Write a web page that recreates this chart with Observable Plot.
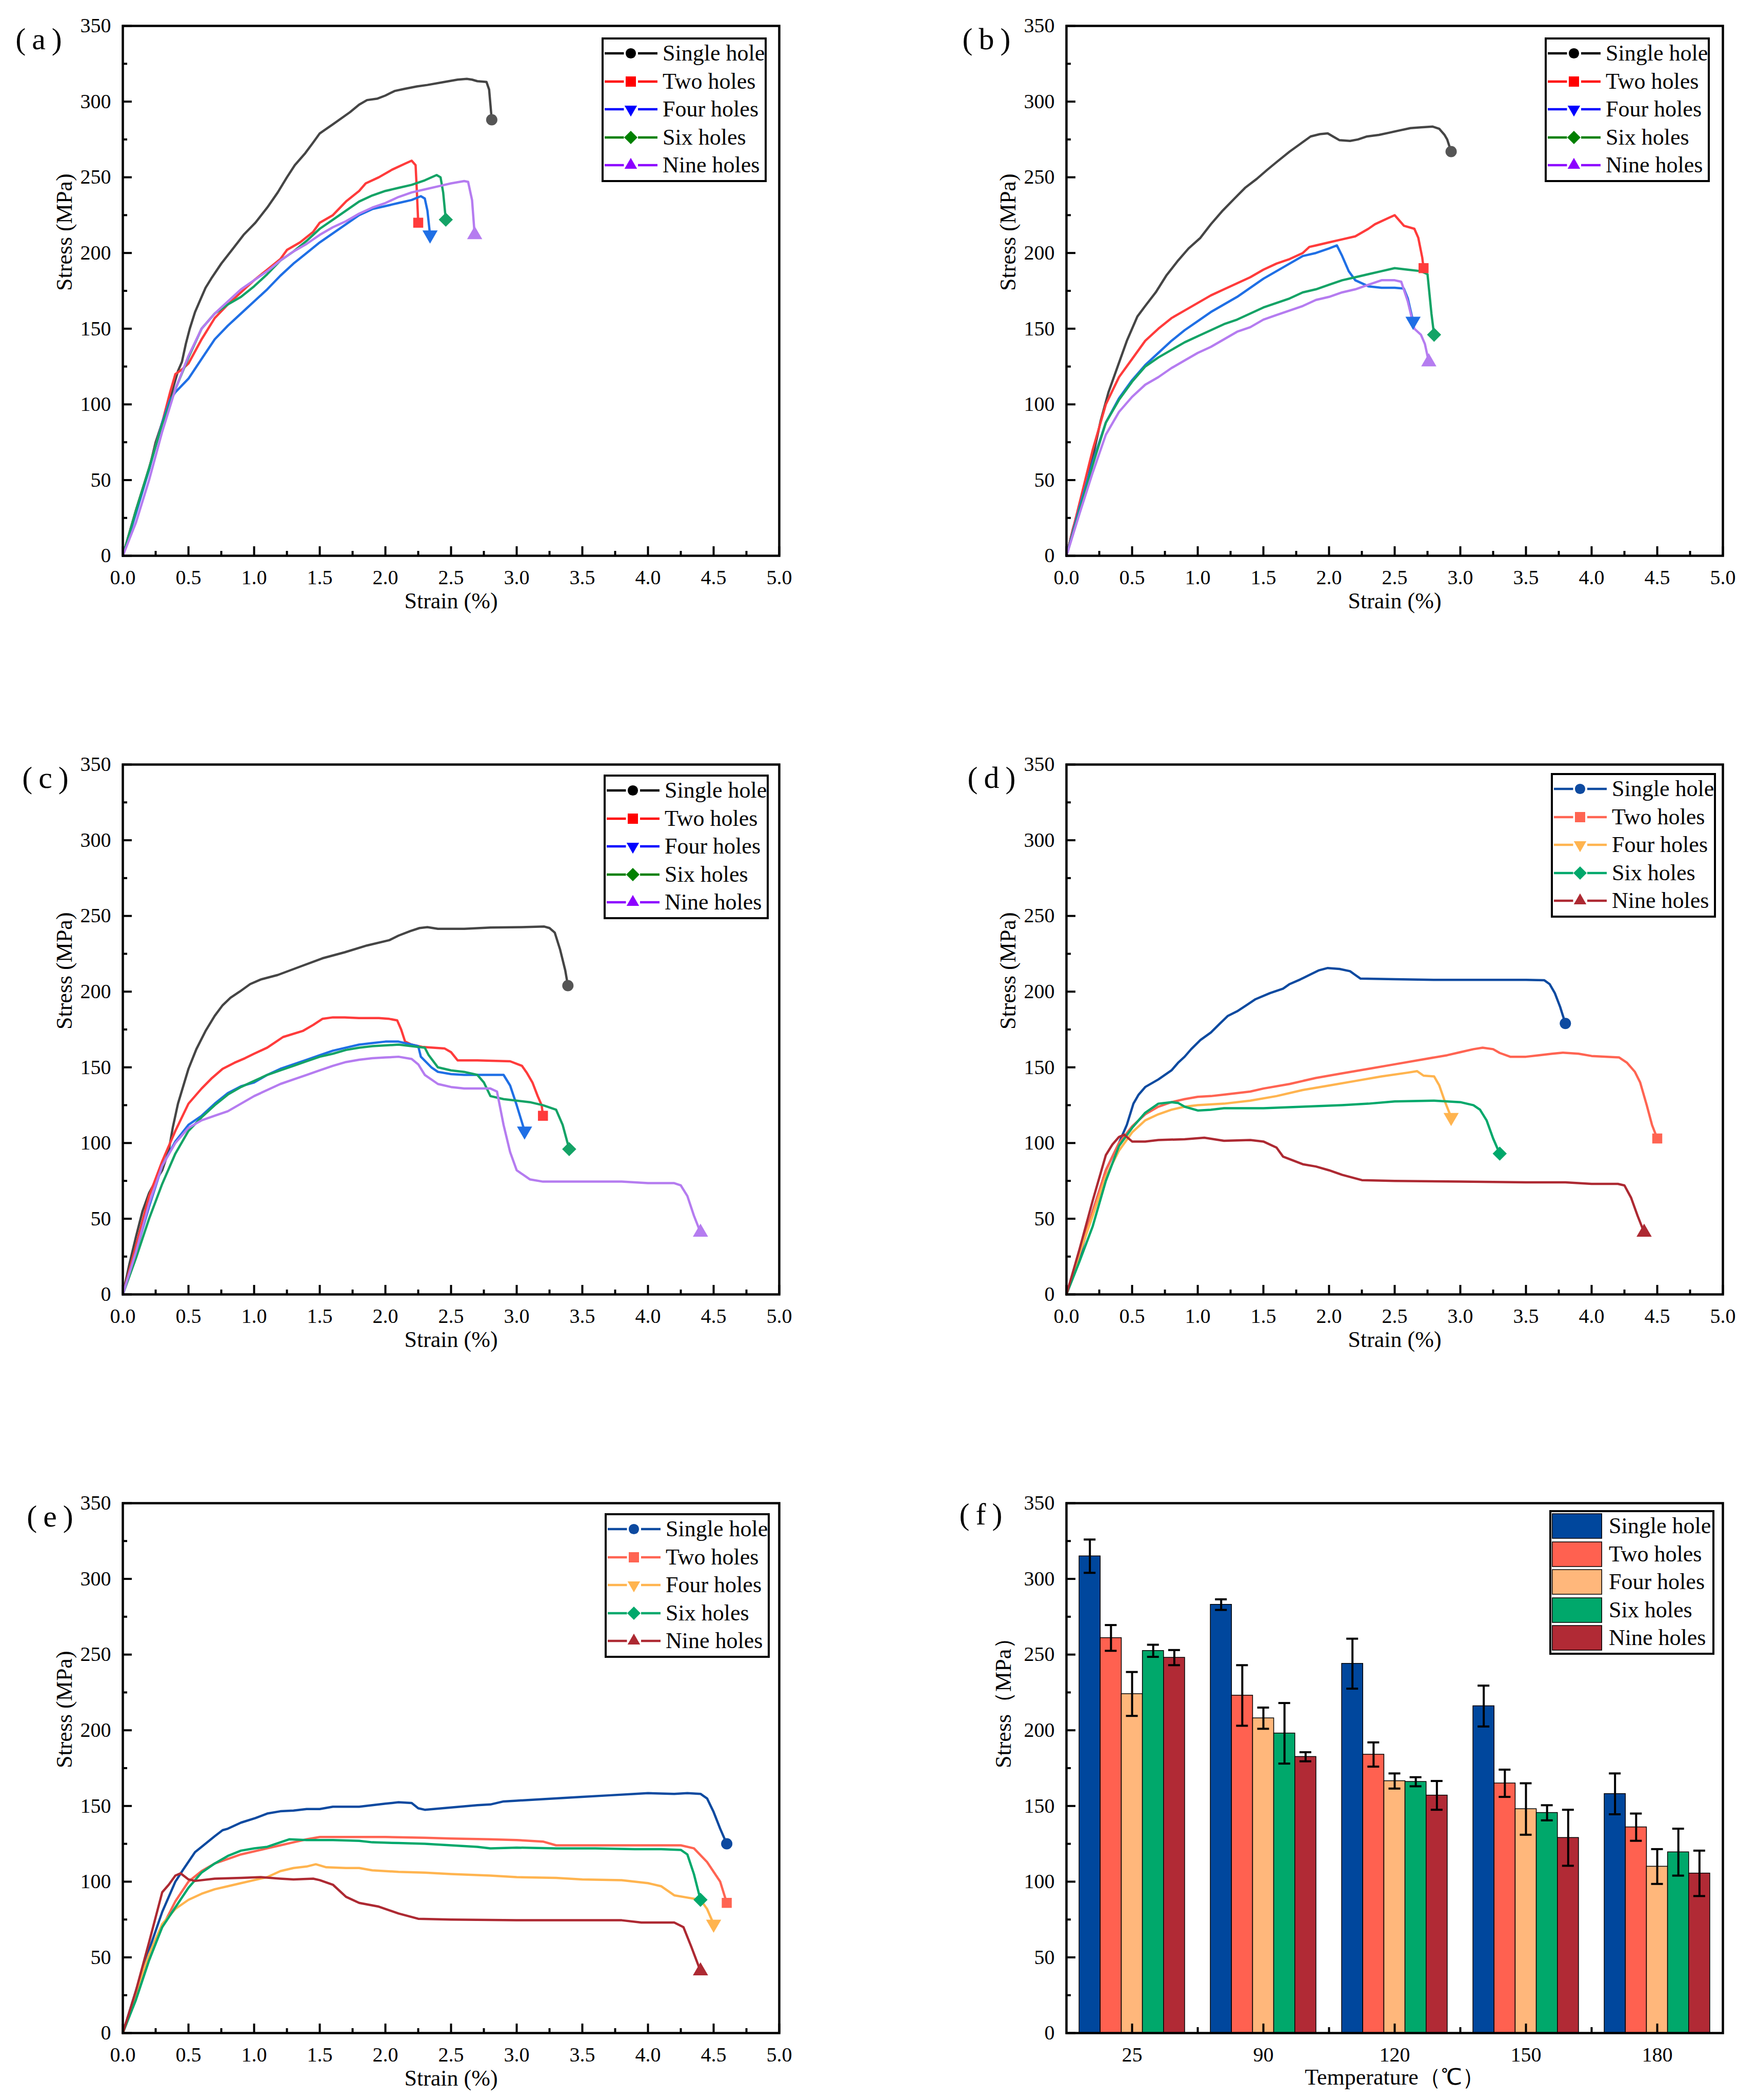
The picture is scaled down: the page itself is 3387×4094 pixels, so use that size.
<!DOCTYPE html>
<html><head><meta charset="utf-8">
<script src="https://cdn.jsdelivr.net/npm/d3@7"></script>
<script src="https://cdn.jsdelivr.net/npm/@observablehq/plot@0.6"></script>
<style>
html,body{margin:0;padding:0;background:#fff;}
#page{position:relative;width:3387px;height:4094px;overflow:hidden;background:#fff;font-family:"Liberation Serif","Times New Roman",serif;}
.legend{position:absolute;box-sizing:border-box;width:322px;height:282px;border:4.5px solid #000;background:#fff;}
.lrow{display:flex;align-items:center;height:54.5px;white-space:nowrap;font-size:44px;line-height:1;color:#000;}
.lrow svg{flex:none;display:block;}
</style>
</head><body><div id="page"></div>
<script>
// ---------- axis ticks ----------
const xMajor = [0,0.5,1,1.5,2,2.5,3,3.5,4,4.5,5];
const xMinor = [0.25,0.75,1.25,1.75,2.25,2.75,3.25,3.75,4.25,4.75];
const yMajor = [0,50,100,150,200,250,300,350];
const yMinor = [25,75,125,175,225,275,325];
const seriesNames = ["Single hole","Two holes","Four holes","Six holes","Nine holes"];

// ---------- panel (a) ----------
const a_single = [[0,0],[0.05,15],[0.1,30],[0.2,57],[0.25,75],[0.3,88],[0.34,98],[0.38,110],[0.42,122],[0.45,128],[0.48,140],[0.51,150],[0.55,161],[0.59,169],[0.63,177],[0.68,184],[0.75,193],[0.84,203],[0.92,212],[1.01,220],[1.1,230],[1.18,240],[1.25,250],[1.31,258],[1.39,266],[1.45,273],[1.5,279],[1.6,285],[1.73,293],[1.8,298],[1.86,301],[1.94,302],[2.0,304],[2.07,307],[2.15,308.5],[2.24,310],[2.32,311],[2.45,313],[2.55,314.5],[2.62,315],[2.66,314.5],[2.7,313.5],[2.77,313],[2.79,308],[2.8,298],[2.81,288]];
const a_two = [[0,0],[0.1,30],[0.2,58],[0.3,88],[0.36,108],[0.4,120],[0.45,123],[0.5,127],[0.55,135],[0.6,143],[0.7,157],[0.8,166],[0.9,174],[1.0,182],[1.1,189],[1.2,196],[1.25,202],[1.35,207],[1.45,214],[1.5,220],[1.6,225],[1.7,234],[1.8,241],[1.85,246],[1.95,250],[2.05,255],[2.15,259],[2.2,261],[2.23,258],[2.24,240],[2.25,220]];
const a_four = [[0,0],[0.1,28],[0.2,57],[0.3,88],[0.36,103],[0.4,108],[0.5,117],[0.6,130],[0.7,143],[0.8,152],[0.9,160],[1.0,168],[1.1,176],[1.2,185],[1.3,193],[1.4,200],[1.5,207],[1.6,213],[1.7,219],[1.8,225],[1.9,229],[2.0,231],[2.1,233],[2.2,235],[2.27,237.5],[2.3,236],[2.32,228],[2.34,212]];
const a_six = [[0,0],[0.1,30],[0.2,58],[0.3,87],[0.4,110],[0.5,131],[0.6,150],[0.7,160],[0.8,166],[0.9,171],[1.0,178],[1.1,186],[1.2,195],[1.3,201],[1.4,208],[1.5,216],[1.6,222],[1.7,228],[1.8,234],[1.9,238],[2.0,241],[2.1,243],[2.2,245],[2.3,248],[2.39,251.5],[2.42,250],[2.44,240],[2.46,222]];
const a_nine = [[0,0],[0.1,22],[0.2,50],[0.3,82],[0.4,110],[0.5,132],[0.6,150],[0.7,160],[0.8,168],[0.9,176],[1.0,182],[1.1,188],[1.2,195],[1.3,201],[1.4,206],[1.5,212],[1.6,217],[1.7,221],[1.8,226],[1.9,230],[2.0,233],[2.1,237],[2.2,240],[2.3,242],[2.4,244],[2.5,246],[2.6,247.5],[2.63,247],[2.66,235],[2.68,212]];

// ---------- panel (b) ----------
const b_single = [[0,0],[0.05,18],[0.1,33],[0.14,42],[0.2,65],[0.26,89],[0.32,108],[0.39,125],[0.46,142],[0.54,158],[0.6,165],[0.68,174],[0.76,185],[0.85,195],[0.93,203],[1.02,210],[1.1,219],[1.19,228],[1.28,236],[1.36,243],[1.45,249],[1.53,255],[1.6,260],[1.7,267],[1.78,272],[1.86,277],[1.93,278.5],[1.99,279],[2.03,277],[2.08,274.5],[2.16,274],[2.22,275],[2.29,277],[2.38,278],[2.46,279.5],[2.54,281],[2.62,282.5],[2.7,283],[2.79,283.5],[2.84,282],[2.88,278],[2.9,275],[2.93,267]];
const b_two = [[0,0],[0.1,35],[0.2,70],[0.3,100],[0.4,118],[0.5,130],[0.6,142],[0.7,150],[0.8,157],[0.9,162],[1.0,167],[1.1,172],[1.2,176],[1.3,180],[1.4,184],[1.5,189],[1.6,193],[1.7,196],[1.8,200],[1.85,204],[1.9,205],[2.0,207],[2.1,209],[2.2,211],[2.3,216],[2.35,219],[2.45,223],[2.5,225],[2.53,222],[2.57,218],[2.65,216],[2.68,210],[2.71,197],[2.72,190]];
const b_four = [[0,0],[0.1,32],[0.2,62],[0.3,88],[0.4,104],[0.5,116],[0.6,126],[0.7,134],[0.8,142],[0.9,149],[1.0,155],[1.1,161],[1.2,166],[1.3,171],[1.4,177],[1.5,183],[1.6,188],[1.7,193],[1.8,198],[1.9,200],[2.0,203],[2.06,205],[2.1,198],[2.15,188],[2.2,182],[2.3,178],[2.4,177],[2.5,177],[2.57,176.5],[2.6,170],[2.64,155]];
const b_six = [[0,0],[0.1,30],[0.2,60],[0.3,88],[0.4,103],[0.5,115],[0.6,125],[0.7,131],[0.8,136],[0.9,141],[1.0,145],[1.1,149],[1.2,153],[1.3,156],[1.4,160],[1.5,164],[1.6,167],[1.7,170],[1.8,174],[1.9,176],[2.0,179],[2.1,182],[2.2,184],[2.3,186],[2.4,188],[2.5,190],[2.6,189],[2.7,188],[2.75,186],[2.78,160],[2.8,146]];
const b_nine = [[0,0],[0.1,28],[0.2,55],[0.3,80],[0.4,95],[0.5,105],[0.6,113],[0.7,118],[0.8,124],[0.9,129],[1.0,134],[1.1,138],[1.2,143],[1.3,148],[1.4,151],[1.5,156],[1.6,159],[1.7,162],[1.8,165],[1.9,169],[2.0,171],[2.1,174],[2.2,176],[2.3,179],[2.4,182],[2.5,182],[2.55,181],[2.6,168],[2.65,150],[2.7,146],[2.73,140],[2.76,128]];

// ---------- panel (c) ----------
const c_single = [[0,0],[0.05,20],[0.1,38],[0.15,55],[0.2,67],[0.25,75],[0.3,82],[0.35,95],[0.38,110],[0.42,126],[0.5,149],[0.56,162],[0.63,174],[0.7,184],[0.76,191],[0.82,196],[0.89,200],[0.97,205],[1.05,208],[1.18,211],[1.35,216.5],[1.52,222],[1.69,226],[1.86,230.5],[2.03,234],[2.1,237],[2.19,240],[2.26,242],[2.32,242.6],[2.4,241.5],[2.6,241.5],[2.8,242.3],[3.04,242.6],[3.21,243],[3.25,242],[3.29,239],[3.33,228],[3.37,214],[3.39,204]];
const c_two = [[0,0],[0.1,32],[0.2,65],[0.3,88],[0.4,108],[0.5,126],[0.6,136],[0.68,143],[0.76,149],[0.85,153],[0.93,156],[1.0,159],[1.1,163],[1.22,170],[1.37,174],[1.45,178],[1.52,182],[1.6,183],[1.69,183],[1.8,182.5],[1.95,182.5],[2.03,182],[2.09,181],[2.12,175],[2.15,167],[2.2,165],[2.28,163.5],[2.45,162.5],[2.5,160],[2.55,154.6],[2.7,154.6],[2.95,154],[3.04,151],[3.08,146],[3.12,140],[3.16,131],[3.19,125],[3.2,118]];
const c_four = [[0,0],[0.1,28],[0.2,58],[0.3,85],[0.4,101],[0.5,112],[0.6,118],[0.7,126],[0.8,133],[0.9,137.5],[1.0,140],[1.1,145],[1.2,149],[1.3,152],[1.4,155],[1.5,158],[1.6,161],[1.7,163],[1.8,165],[1.9,166],[2.0,167],[2.1,167],[2.2,165],[2.25,164],[2.27,157],[2.35,150],[2.4,147],[2.5,145.5],[2.6,145],[2.9,145],[2.95,138],[3.0,125],[3.06,108]];
const c_six = [[0,0],[0.1,24],[0.2,50],[0.3,73],[0.4,93],[0.5,108],[0.6,117],[0.7,125],[0.8,132],[0.9,137],[1.0,141],[1.1,145],[1.2,148],[1.3,151],[1.4,154],[1.5,157],[1.6,159],[1.7,161.5],[1.8,163],[1.9,164],[2.0,164.5],[2.1,165],[2.2,164],[2.3,163],[2.33,158],[2.4,150],[2.5,148],[2.6,147],[2.7,145],[2.75,140],[2.8,131],[2.9,129],[3.0,128],[3.1,127],[3.2,125],[3.3,122],[3.35,112],[3.4,96]];
const c_nine = [[0,0],[0.1,28],[0.2,60],[0.3,85],[0.4,100],[0.5,110],[0.6,115],[0.7,118],[0.8,121],[0.9,126],[1.0,131],[1.1,135],[1.2,139],[1.3,142],[1.4,145],[1.5,148],[1.6,151],[1.7,153.5],[1.8,155],[1.9,156],[2.0,156.5],[2.1,157],[2.2,155.5],[2.25,152],[2.3,145],[2.4,139],[2.5,137],[2.6,136],[2.7,136],[2.8,136],[2.85,134],[2.9,112],[2.95,94],[3.0,82],[3.1,76],[3.2,74.5],[3.5,74.5],[3.8,74.5],[4.0,73.5],[4.2,73.5],[4.25,72],[4.3,65],[4.35,52],[4.4,41]];

// ---------- panel (d) ----------
const d_single = [[0,0],[0.1,25],[0.2,55],[0.3,82],[0.4,100],[0.46,112],[0.51,126],[0.55,132],[0.6,137],[0.7,142],[0.8,148],[0.85,153],[0.9,157],[0.95,162],[1.02,168],[1.1,173],[1.17,179],[1.23,184],[1.3,187],[1.37,191],[1.44,195],[1.55,199],[1.65,202],[1.7,205],[1.78,208],[1.85,211],[1.92,214],[1.99,215.6],[2.08,215],[2.16,213.5],[2.2,211],[2.24,208.6],[2.5,208.2],[2.8,207.8],[3.2,207.8],[3.5,207.8],[3.64,207.5],[3.68,205],[3.72,199],[3.76,190],[3.8,179]];
const d_two = [[0,0],[0.1,28],[0.2,55],[0.3,82],[0.4,100],[0.5,111],[0.6,119],[0.7,124],[0.8,127],[0.9,129],[1.0,130.5],[1.1,131],[1.2,132],[1.3,133],[1.4,134],[1.5,136],[1.7,139],[1.9,143],[2.1,146],[2.3,149],[2.5,152],[2.7,155],[2.9,158],[3.0,160],[3.1,162],[3.17,163],[3.25,162],[3.3,159.5],[3.38,157],[3.5,157],[3.6,158],[3.7,159],[3.78,159.7],[3.9,159],[4.0,157.5],[4.21,156.5],[4.27,153],[4.33,147],[4.37,140],[4.42,125],[4.46,112],[4.5,103]];
const d_four = [[0,0],[0.1,27],[0.2,52],[0.3,78],[0.4,95],[0.5,107],[0.6,115],[0.7,119],[0.8,122],[0.9,124],[1.0,125],[1.2,126],[1.4,128],[1.6,131],[1.8,135],[2.0,138],[2.2,141],[2.4,144],[2.6,146.5],[2.67,147.5],[2.72,144.5],[2.8,144],[2.84,138],[2.88,128],[2.93,117]];
const d_six = [[0,0],[0.1,22],[0.2,45],[0.3,75],[0.4,98],[0.5,110],[0.6,120],[0.7,126],[0.8,127],[0.85,126.5],[0.9,124],[1.0,121.5],[1.1,122],[1.2,123],[1.5,123],[1.8,124],[2.1,125],[2.3,126],[2.5,127.5],[2.8,128],[3.0,127],[3.1,125],[3.15,122],[3.2,115],[3.25,103],[3.3,93]];
const d_nine = [[0,0],[0.1,30],[0.2,62],[0.3,92],[0.35,99],[0.4,104],[0.44,105.5],[0.5,101],[0.6,101],[0.7,102],[0.9,102.5],[1.05,103.5],[1.2,101.5],[1.4,102],[1.5,101],[1.6,97],[1.65,91],[1.8,86],[1.9,84.5],[2.0,82],[2.1,79],[2.25,75.5],[2.5,75],[3.0,74.5],[3.5,74],[3.8,74],[4.0,73],[4.2,73],[4.25,72],[4.3,64],[4.35,52],[4.4,41]];

// ---------- panel (e) ----------
const e_single = [[0,0],[0.1,28],[0.2,55],[0.3,80],[0.4,100],[0.46,108],[0.55,119.5],[0.6,123],[0.7,130],[0.76,134],[0.8,135],[0.9,139],[1.01,142],[1.1,145],[1.2,146.5],[1.3,147],[1.4,148],[1.5,148],[1.6,149.5],[1.8,149.5],[1.9,150.5],[2.0,151.5],[2.1,152.5],[2.2,152],[2.25,148.5],[2.3,147.5],[2.5,149],[2.7,150.5],[2.8,151],[2.9,153],[3.0,153.5],[3.3,155],[3.5,156],[3.7,157],[3.9,158],[4.0,158.5],[4.2,158],[4.3,158.5],[4.4,158],[4.45,155],[4.5,146],[4.55,135],[4.6,125]];
const e_two = [[0,0],[0.1,25],[0.2,50],[0.3,70],[0.4,87],[0.5,100],[0.6,107],[0.7,112],[0.8,115],[0.9,118],[1.0,120],[1.1,122],[1.2,124],[1.3,126],[1.4,128],[1.5,129.5],[1.8,129.5],[2.0,129.5],[2.3,129],[2.5,128.5],[2.8,128],[3.0,127.5],[3.2,126.5],[3.3,124],[3.5,124],[3.8,124],[4.0,124],[4.25,124],[4.35,122],[4.45,113],[4.55,100],[4.6,86]];
const e_four = [[0,0],[0.1,27],[0.2,52],[0.3,72],[0.4,82],[0.5,88],[0.6,92],[0.7,95],[0.8,97],[0.9,99],[1.0,101],[1.1,103],[1.2,107],[1.3,109],[1.4,110],[1.47,111.5],[1.55,109.5],[1.7,109],[1.8,109],[1.9,107.5],[2.1,106.5],[2.3,106],[2.5,105],[2.8,104],[3.0,103],[3.3,102.5],[3.5,101.5],[3.8,101],[4.0,99],[4.1,97],[4.2,91],[4.3,89.5],[4.4,88],[4.45,82],[4.5,72]];
const e_six = [[0,0],[0.1,22],[0.2,48],[0.3,70],[0.4,83],[0.5,96],[0.6,106],[0.7,112],[0.8,117],[0.9,120.5],[1.0,122],[1.1,123],[1.2,126],[1.27,128],[1.4,127.5],[1.6,127.5],[1.8,127],[1.9,126],[2.1,125.5],[2.3,125],[2.5,124],[2.7,123],[2.8,122],[3.0,122.5],[3.3,122],[3.6,122],[3.9,121.5],[4.1,121.5],[4.25,121],[4.3,118],[4.35,105],[4.4,88]];
const e_nine = [[0,0],[0.1,28],[0.2,60],[0.3,93],[0.35,98],[0.4,104],[0.44,105.5],[0.5,101.5],[0.55,100.5],[0.7,102],[0.9,102.5],[1.05,103],[1.2,102],[1.3,101.5],[1.45,102],[1.5,101],[1.6,98],[1.7,90],[1.8,86],[1.95,83.5],[2.1,79],[2.25,75.5],[2.5,75],[3.0,74.5],[3.5,74.5],[3.8,74.5],[3.95,73],[4.2,73],[4.27,70],[4.33,57],[4.4,41]];

// ---------- panel (f) bar chart ----------
const temps = ["25","90","120","150","180"];
const bar_single = [315, 283, 244, 216, 158];
const err_single = [11, 3.5, 16.5, 13.5, 13.5];
const bar_two = [261, 223, 184, 165, 136];
const err_two = [8.5, 20, 8, 9, 9];
const bar_four = [224, 208, 166.5, 148, 110];
const err_four = [14.5, 7, 5, 17, 11.5];
const bar_six = [252.5, 198, 166, 145.5, 119.5];
const err_six = [4, 20, 3, 5, 15.5];
const bar_nine = [248, 182.5, 157, 129, 105.5];
const err_nine = [5, 3, 9.5, 18.5, 15];

// ---------- styling ----------
const set1Curve = ["#454545","#ff3b3b","#1f6fe5","#14a366","#b57cf0"];
const set1Marker = ["#555555","#ff3b3b","#1f6fe5","#14a366","#b57cf0"];
const set1Legend = ["#000000","#ff0000","#0000ff","#008000","#8c00ff"];
const set2 = ["#0d4aa0","#ff6452","#ffb44f","#00a86b","#ad2932"];
const barColors = ["#00479d","#ff6150","#ffb77b","#00a86b","#b12a35"];

const triangleDown = {draw(ctx, size){const s=Math.sqrt(size*4/Math.sqrt(3));const h=s*Math.sqrt(3)/2;ctx.moveTo(-s/2,-h/3);ctx.lineTo(s/2,-h/3);ctx.lineTo(0,2*h/3);ctx.closePath();}};
const diamondSq = {draw(ctx, size){const r=Math.sqrt(size/2);ctx.moveTo(0,-r);ctx.lineTo(r,0);ctx.lineTo(0,r);ctx.lineTo(-r,0);ctx.closePath();}};
const plotSymbols = ["circle","square",triangleDown,diamondSq,"triangle"];
const legendSymbols = [[d3.symbolCircle,320],[d3.symbolSquare,400],[triangleDown,260],[diamondSq,340],[d3.symbolTriangle,260]];

const page = document.getElementById("page");
const PW = 1280, PH = 1033, MT = 50, MB = 130;
const colLeft = [0, 1693], colML = [239, 386], colMR = [174, 28];
const rowTop = [0, 1440, 2880];

function frameAxes(xTickVals, xFmt, xMinorVals, xMinorSize) {
  return [
    Plot.axisX(xMinorVals, {anchor:"bottom", tickSize:-xMinorSize, tickFormat:()=>"", strokeWidth:4, label:null}),
    Plot.axisX(xTickVals, {anchor:"bottom", tickSize:-18, tickPadding:18+27, tickFormat:xFmt, fontSize:40, strokeWidth:4, label:null}),
    Plot.axisY(yMinor, {anchor:"left", tickSize:-9, tickFormat:()=>"", strokeWidth:4, label:null}),
    Plot.axisY(yMajor, {anchor:"left", tickSize:-18, tickPadding:18+23, tickFormat:d=>String(d), fontSize:40, strokeWidth:4, label:null})
  ];
}

function place(svg, col, row) {
  svg.style.position = "absolute";
  svg.style.left = colLeft[col] + "px";
  svg.style.top = rowTop[row] + "px";
  page.appendChild(svg);
}

function addLegend(left, top, colors, markerColors, kind) {
  const box = d3.select(page).append("div").attr("class","legend").style("left", left+"px").style("top", top+"px");
  seriesNames.forEach((name, i) => {
    const row = box.append("div").attr("class","lrow");
    if (kind === "swatch") {
      const s = row.append("svg").attr("width",98).attr("height",50).style("margin-left","1px").style("margin-right","13px");
      s.append("rect").attr("x",0.75).attr("y",1).attr("width",96.5).attr("height",48).attr("fill",colors[i]).attr("stroke","#000").attr("stroke-width",1.5);
    } else {
      const s = row.append("svg").attr("width",103).attr("height",54).style("margin-left","2px").style("margin-right","10px");
      s.append("line").attr("x1",0).attr("x2",37.5).attr("y1",27).attr("y2",27).attr("stroke",colors[i]).attr("stroke-width",4.5);
      s.append("line").attr("x1",65).attr("x2",103).attr("y1",27).attr("y2",27).attr("stroke",colors[i]).attr("stroke-width",4.5);
      s.append("path").attr("transform","translate(51,27)").attr("d", d3.symbol().type(legendSymbols[i][0]).size(legendSymbols[i][1])()).attr("fill", markerColors[i]);
    }
    row.append("span").text(name);
  });
}

function panelLabel(text, dx, dy) {
  return Plot.text([text], {frameAnchor:"top-left", dx, dy, fontSize:60, textAnchor:"middle", lineAnchor:"middle"});
}

function curvePanel(col, row, label, labelDx, seriesData, curveColors, markerColors) {
  const marks = [];
  seriesData.forEach((data, i) => {
    marks.push(Plot.line(data, {x: d=>d[0], y: d=>d[1], stroke: curveColors[i], strokeWidth: 4.5, strokeLinejoin: "round"}));
  });
  seriesData.forEach((data, i) => {
    marks.push(Plot.dot([data[data.length-1]], {x: d=>d[0], y: d=>d[1], symbol: plotSymbols[i], r: 11, fill: markerColors[i], stroke: "none"}));
  });
  marks.push(...frameAxes(xMajor, d=>d.toFixed(1), xMinor, 9));
  marks.push(Plot.text(["Strain (%)"], {frameAnchor:"bottom", dy:88, fontSize:44, lineAnchor:"middle"}));
  marks.push(Plot.text(["Stress (MPa)"], {frameAnchor:"left", dx:-114, rotate:-90, fontSize:44, lineAnchor:"middle"}));
  marks.push(panelLabel(label, labelDx, 26));
  marks.push(Plot.frame({stroke:"#000", strokeWidth:4.5}));
  const svg = Plot.plot({
    width: colML[col] + PW + colMR[col], height: MT + PH + MB,
    marginLeft: colML[col], marginRight: colMR[col], marginTop: MT, marginBottom: MB,
    x: {domain:[0,5]}, y: {domain:[0,350]},
    style: {fontFamily:"'Liberation Serif','Times New Roman',serif", fontSize:"40px", color:"#000", background:"none", overflow:"visible"},
    marks
  });
  place(svg, col, row);
}

curvePanel(0, 0, "(\u2009a\u2009)", -164, [a_single,a_two,a_four,a_six,a_nine], set1Curve, set1Marker);
curvePanel(1, 0, "(\u2009b\u2009)", -156, [b_single,b_two,b_four,b_six,b_nine], set1Curve, set1Marker);
curvePanel(0, 1, "(\u2009c\u2009)", -151, [c_single,c_two,c_four,c_six,c_nine], set1Curve, set1Marker);
curvePanel(1, 1, "(\u2009d\u2009)", -146, [d_single,d_two,d_four,d_six,d_nine], set2, set2);
curvePanel(0, 2, "(\u2009e\u2009)", -142, [e_single,e_two,e_four,e_six,e_nine], set2, set2);

// bar panel (f)
(function(){
  const bars = [bar_single, bar_two, bar_four, bar_six, bar_nine];
  const errs = [err_single, err_two, err_four, err_six, err_nine];
  const bw = 0.1608, start = 0.098, capHalf = 0.045;
  const marks = [];
  bars.forEach((vals, k) => {
    const rows = vals.map((v, i) => ({v, e: errs[k][i], x1: i + start + k*bw, x2: i + start + (k+1)*bw}));
    marks.push(Plot.rect(rows, {x1:"x1", x2:"x2", y1:0, y2:"v", fill: barColors[k], stroke:"#000", strokeWidth:1.5}));
  });
  bars.forEach((vals, k) => {
    const rows = vals.map((v, i) => ({lo: v - errs[k][i], hi: v + errs[k][i], xc: i + start + (k+0.5)*bw}));
    marks.push(Plot.ruleX(rows, {x:"xc", y1:"lo", y2:"hi", stroke:"#000", strokeWidth:4}));
    marks.push(Plot.ruleY(rows, {y:"hi", x1:d=>d.xc-capHalf, x2:d=>d.xc+capHalf, stroke:"#000", strokeWidth:4}));
    marks.push(Plot.ruleY(rows, {y:"lo", x1:d=>d.xc-capHalf, x2:d=>d.xc+capHalf, stroke:"#000", strokeWidth:4}));
  });
  const centers = temps.map((t, i) => i + 0.5);
  const bounds = [1,2,3,4];
  marks.push(...frameAxes(centers, d=>temps[Math.floor(d)], bounds, 11));
  marks.push(Plot.text(["Temperature\uFF08\u2103\uFF09"], {frameAnchor:"bottom", dy:86, fontSize:44, lineAnchor:"middle"}));
  marks.push(Plot.text(["Stress\uFF08MPa\uFF09"], {frameAnchor:"left", dx:-123, rotate:-90, fontSize:44, lineAnchor:"middle"}));
  marks.push(panelLabel("(\u2009f\u2009)", -167, 22));
  marks.push(Plot.frame({stroke:"#000", strokeWidth:4.5}));
  const svg = Plot.plot({
    width: colML[1] + PW + colMR[1], height: MT + PH + MB,
    marginLeft: colML[1], marginRight: colMR[1], marginTop: MT, marginBottom: MB,
    x: {domain:[0,5]}, y: {domain:[0,350]},
    style: {fontFamily:"'Liberation Serif','Times New Roman',serif", fontSize:"40px", color:"#000", background:"none", overflow:"visible"},
    marks
  });
  place(svg, 1, 2);
})();

// legends (page coordinates)
addLegend(1173, 73, set1Legend, set1Legend, "line");
addLegend(3012, 73, set1Legend, set1Legend, "line");
addLegend(1177, 1510, set1Legend, set1Legend, "line");
addLegend(3024, 1507, set2, set2, "line");
addLegend(1179, 2950, set2, set2, "line");
addLegend(3021, 2944, barColors, barColors, "swatch");
</script>
</body></html>
